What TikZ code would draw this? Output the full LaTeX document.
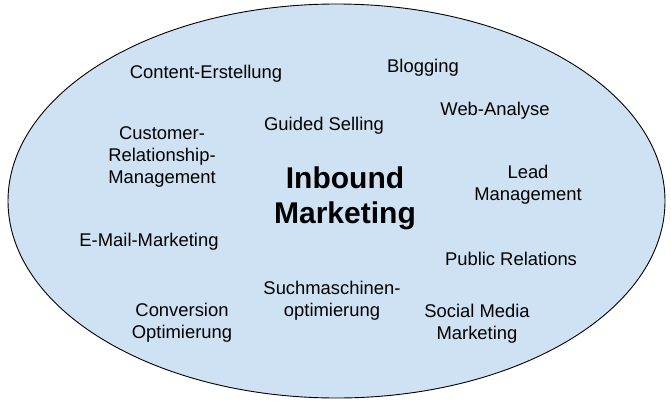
\documentclass[tikz,border=0pt]{standalone}
\usepackage{fontspec}
\setmainfont{Liberation Sans}
\usetikzlibrary{positioning,shapes.geometric}
\definecolor{cloudblue}{HTML}{CFE2F3}

\begin{document}
\begin{tikzpicture}[
    x=1pt,y=-1pt,
    cloud/.style={ellipse,draw=black,line width=0.9pt,fill=cloudblue,minimum width=657pt,minimum height=394pt,inner sep=0pt},
    topic/.style={align=center,inner sep=0pt,font=\fontsize{18.4}{22}\selectfont},
    core/.style={align=center,inner sep=0pt,font=\fontsize{30}{35}\selectfont\bfseries}
]
\useasboundingbox (0,0) rectangle (671,404);

% Ellipse
\node[cloud] (cloud) at (336.5,201) {};

% Centre
\node[core] (inbound) at (345,198) {Inbound\\Marketing};

% Topics
\node[topic] (content) at (206,74) {Content-Erstellung};
\node[topic] (blog) at (423,68) {Blogging};
\node[topic] (web) at (495,111) {Web-Analyse};
\node[topic] (guided) at (324,126) {Guided Selling};
\node[topic] (crm) at (162,157) {Customer-\\Relationship-\\Management};
\node[topic] (lead) at (528,185) {Lead\\Management};
\node[topic] (mail) at (149,242) {E-Mail-Marketing};
\node[topic] (pr) at (511,259) {Public Relations};
\node[topic] (seo) at (332,301) {Suchmaschinen-\\optimierung};
\node[topic] (conv) at (182,323) {Conversion\\Optimierung};
\node[topic] (social) at (477,324) {Social Media\\Marketing};

\end{tikzpicture}
\end{document}
